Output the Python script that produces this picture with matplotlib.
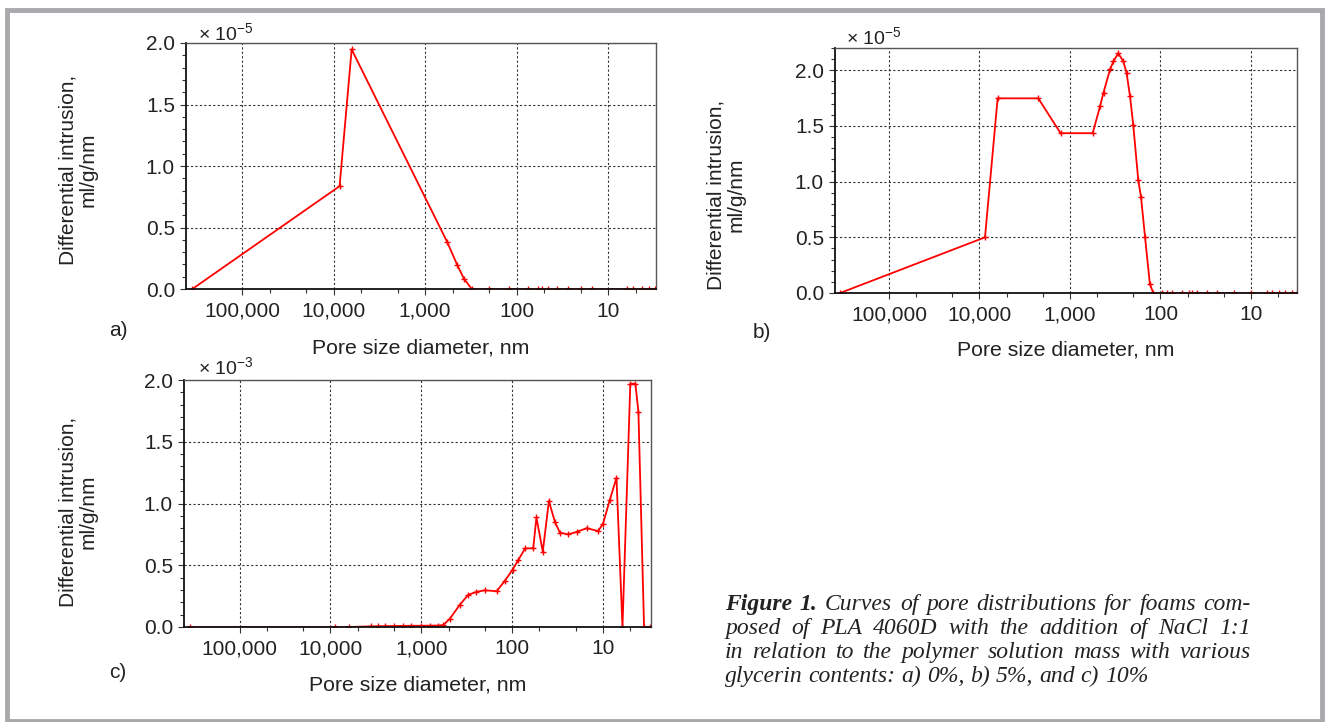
import matplotlib
matplotlib.use('Agg')
import matplotlib.pyplot as plt
from matplotlib.ticker import FixedLocator, FuncFormatter, MultipleLocator
from matplotlib.patches import Rectangle
from matplotlib.font_manager import FontProperties

plt.rcParams['font.family'] = ['Liberation Sans', 'DejaVu Sans']

# a) 0% glycerin, pore diameter (nm) and differential intrusion (x 1e-5 ml/g/nm)
a_x = [350000, 8600, 6350, 572, 445, 377, 309, 198, 120, 75.5, 58.7, 53, 45, 36,
       27.5, 20, 15, 6.25, 5.3, 4.3, 3.6, 3.06]
a_y = [0.0, 0.836, 1.948, 0.38, 0.194, 0.085, 0.0, 0.0, 0.0, 0.0, 0.0, 0.0, 0.0,
       0.0, 0.0, 0.0, 0.0, 0.0, 0.0, 0.0, 0.0, 0.0]

# b) 5% glycerin (x 1e-5 ml/g/nm)
b_x = [347000, 8690, 6300, 2240, 1270, 561, 466, 426, 361, 331, 293, 257, 237, 217,
       200, 176, 164, 148, 131, 120, 95.5, 84, 74, 57.5, 48.6, 44.7, 39, 30.5, 23.6,
       15.5, 10.1, 6.6, 5.8, 4.9, 4.2, 3.5, 3.1]
b_y = [0.0, 0.50, 1.748, 1.748, 1.435, 1.435, 1.675, 1.80, 2.007, 2.08, 2.152, 2.08,
       1.977, 1.766, 1.51, 1.013, 0.86, 0.50, 0.08, 0.0, 0.0, 0.0, 0.0, 0.0, 0.0,
       0.0, 0.0, 0.0, 0.0, 0.0, 0.0, 0.0, 0.0, 0.0, 0.0, 0.0, 0.0]

# c) 10% glycerin (x 1e-3 ml/g/nm)
c_x = [355000, 8900, 6300, 3600, 3000, 2500, 2000, 1600, 1300, 1000, 800, 650, 575,
       485, 377, 305, 247, 200, 148, 120, 99, 86, 72, 58.6, 54, 46, 39.4, 33.8,
       29.8, 24.1, 19.5, 15.1, 11.3, 10, 8.4, 7.1, 6.1, 5.0, 4.4, 4.07, 3.53, 3.0]
c_y = [0.0, 0.0, 0.0, 0.005, 0.006, 0.007, 0.008, 0.009, 0.010, 0.010, 0.011,
       0.012, 0.015, 0.067, 0.18, 0.26, 0.285, 0.297, 0.29, 0.375, 0.464, 0.54,
       0.636, 0.638, 0.887, 0.61, 1.02, 0.85, 0.764, 0.75, 0.77, 0.80, 0.777,
       0.836, 1.03, 1.208, 0.0, 1.97, 1.97, 1.74, 0.0, 0.0]

x_ticks = [1e5, 1e4, 1e3, 1e2, 1e1]
x_minor = [50000, 20000, 5000, 2000, 500, 200, 50, 20, 5]

W, H = 1326, 722
fig = plt.figure(figsize=(W / 100, H / 100), dpi=100)

# grey frame around the whole figure
fig.patches.append(Rectangle((7 / W, 1.5 / H), 1315 / W, 711 / H,
                             transform=fig.transFigure, fill=False,
                             ec='#a7a9ac', lw=3.5))


def panel(rect, xs, ys, xlim, ymax, power, letter, letter_xy, ylab_xy, mult_xy,
          xlab_y):
    ax = fig.add_axes([rect[0] / W, 1 - rect[3] / H,
                       (rect[2] - rect[0]) / W, (rect[3] - rect[1]) / H])
    ax.plot(xs, ys, color='#ff0000', lw=1.3, marker='+', ms=4, mew=1)
    ax.set_xscale('log')
    ax.set_xlim(xlim)
    ax.set_ylim(0, ymax)
    ax.xaxis.set_major_locator(FixedLocator(x_ticks))
    ax.xaxis.set_minor_locator(FixedLocator(x_minor))
    ax.xaxis.set_major_formatter(FuncFormatter(lambda v, p: f'{int(round(v)):,}'))
    ax.xaxis.set_minor_formatter(FuncFormatter(lambda v, p: ''))
    ax.yaxis.set_major_locator(MultipleLocator(0.5))
    ax.yaxis.set_minor_locator(MultipleLocator(0.1))
    ax.yaxis.set_major_formatter(FuncFormatter(lambda v, p: f'{v:.1f}'))
    ax.grid(True, which='major', ls=(0, (2, 2)), color='#333333', lw=0.8)
    ax.tick_params(which='both', direction='out', labelsize=15, color='#333333',
                   labelcolor='#222222')
    ax.tick_params(which='major', length=4, width=0.8)
    ax.tick_params(which='minor', length=3, width=0.8)
    ax.tick_params(axis='x', pad=5)
    ax.tick_params(axis='y', pad=4)
    for s in ('left', 'bottom'):
        ax.spines[s].set_color('#111111')
        ax.spines[s].set_linewidth(1.3)
    for s in ('top', 'right'):
        ax.spines[s].set_color('#555555')
        ax.spines[s].set_linewidth(1.0)
    fig.text(letter_xy[0] / W, 1 - letter_xy[1] / H, letter, fontsize=15,
             ha='center', va='center', color='#222222')
    fig.text(ylab_xy[0] / W, 1 - ylab_xy[1] / H,
             'Differential intrusion,\nml/g/nm', rotation=90, fontsize=15,
             ha='center', va='center', linespacing=1.05, color='#222222')
    fig.text(mult_xy[0] / W, 1 - mult_xy[1] / H,
             '× 10$^{\\mathregular{' + power + '}}$', fontsize=14,
             ha='left', va='center', color='#222222')
    fig.text((rect[0] + rect[2]) / 2 / W, 1 - xlab_y / H,
             'Pore size diameter, nm', fontsize=15.3, ha='center', va='center',
             color='#222222')
    return ax


panel((186, 43, 656, 289), a_x, a_y, (4.1e5, 3.0), 2.0, '-5', 'a)', (118, 330),
      (78, 170), (198, 34), 348)
panel((835, 48, 1297, 293), b_x, b_y, (3.95e5, 3.1), 2.2, '-5', 'b)', (762, 333),
      (726, 195), (846, 38), 350)
panel((184, 380, 651, 627), c_x, c_y, (4.1e5, 2.96), 2.0, '-3', 'c)', (118, 672),
      (78, 512), (198, 368), 685)

# caption, justified like a journal column
fp_b = FontProperties(family='Liberation Serif', style='italic', weight='bold', size=17)
fp_i = FontProperties(family='Liberation Serif', style='italic', size=17)
cap_lines = [
    [('Figure', fp_b), ('1.', fp_b), ('Curves', fp_i), ('of', fp_i), ('pore', fp_i),
     ('distributions', fp_i), ('for', fp_i), ('foams', fp_i), ('com-', fp_i)],
    [(w, fp_i) for w in 'posed of PLA 4060D with the addition of NaCl 1:1'.split()],
    [(w, fp_i) for w in 'in relation to the polymer solution mass with various'.split()],
    [(w, fp_i) for w in 'glycerin contents: a) 0%, b) 5%, and c) 10%'.split()],
]
cap_left, cap_right = 725, 1251
cap_base = [610, 634, 658, 682]
renderer = fig.canvas.get_renderer()
space_t = fig.text(0, 0, 'a a', fontproperties=fp_i)
nospace_t = fig.text(0, 0, 'aa', fontproperties=fp_i)
space_w = (space_t.get_window_extent(renderer).width
           - nospace_t.get_window_extent(renderer).width)
space_t.remove()
nospace_t.remove()
for i, line in enumerate(cap_lines):
    texts = [fig.text(0, 1 - cap_base[i] / H, w, fontproperties=f, va='baseline',
                      color='#222222') for w, f in line]
    widths = [t.get_window_extent(renderer).width for t in texts]
    if i < len(cap_lines) - 1:
        gap = (cap_right - cap_left - sum(widths)) / (len(texts) - 1)
    else:
        gap = space_w
    x = cap_left
    for t, w in zip(texts, widths):
        t.set_x(x / W)
        x += w + gap

fig.savefig('out.png', dpi=100)
